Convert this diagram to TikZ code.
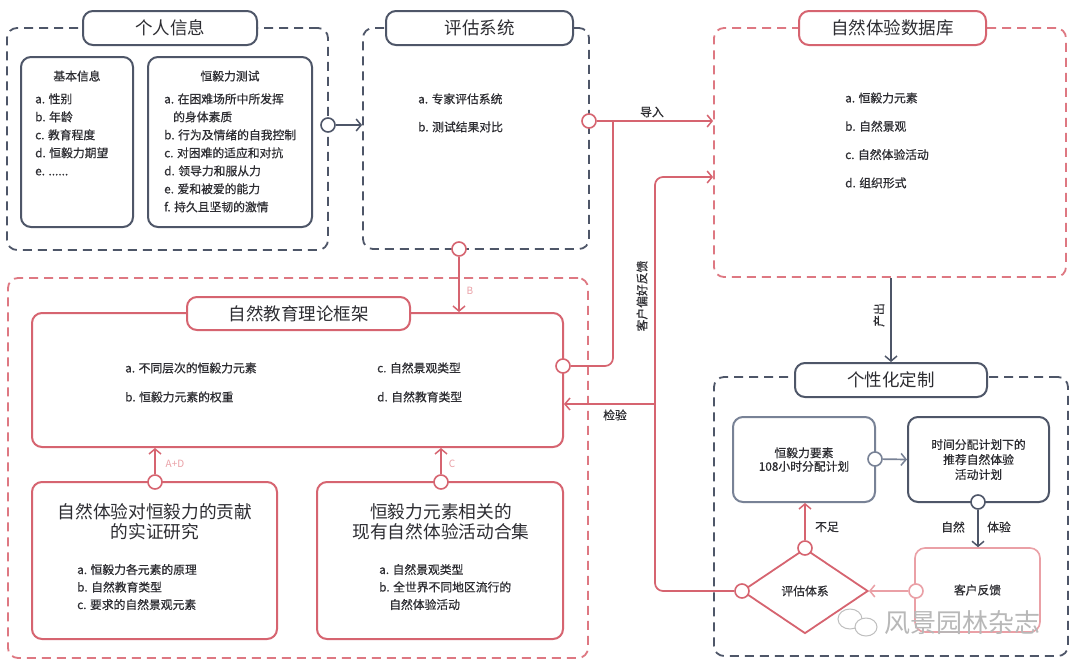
\documentclass[tikz,border=0pt]{standalone}
\usepackage{fontspec}
\setmainfont{Noto Sans CJK SC}
\newfontfamily\itfont{Noto Sans CJK SC}[FakeBold=0.6]
\usetikzlibrary{arrows.meta,shapes.geometric}
\definecolor{gr}{RGB}{78,86,104}
\definecolor{grl}{RGB}{120,130,150}
\definecolor{rd}{RGB}{214,100,112}
\definecolor{rdd}{RGB}{222,120,130}
\definecolor{rdl}{RGB}{234,160,166}
\definecolor{txt}{RGB}{45,45,50}
\tikzset{
  grp/.style={draw, dash pattern=on 9pt off 6pt, line width=1.8pt, rounded corners=10pt, inner sep=0},
  ttl/.style={draw, fill=white, line width=2pt, rounded corners=10pt, inner sep=0, font=\fontsize{17.5}{20}\selectfont, text=txt},
  bx/.style={draw, line width=2pt, rounded corners=10pt, inner sep=0},
  dot/.style={circle, draw, fill=white, line width=1.6pt, minimum size=14pt, inner sep=0},
  arr/.style={line width=1.7pt, -{Straight Barb[length=5pt,width=12pt,line width=1.5pt]}},
  lst/.style={anchor=north west, inner sep=0, align=left, text=txt},
  lbl/.style={inner sep=0, font=\itfont\fontsize{11.8}{14}\selectfont, text=txt},
  sml/.style={inner sep=0, font=\fontsize{10}{12}\selectfont, text=rdl},
}
\begin{document}
\begin{tikzpicture}[x=1pt,y=-1pt]
\useasboundingbox[fill=white] (0,0) rectangle (1080,670);

% ---------- group 1: 个人信息
\node[grp, draw=gr, minimum width=321pt, minimum height=222pt] (gp1) at (167.5,139) {};
\node[ttl, draw=gr, minimum width=174pt, minimum height=34pt] (t1) at (170,28) {个人信息};
\node[bx, draw=gr, minimum width=112pt, minimum height=170pt] (b11) at (77,142) {};
\node[bx, draw=gr, minimum width=164pt, minimum height=170pt] (b12) at (230,142) {};
\node[lbl] (h11) at (77,76) {基本信息};
\node[lbl] (h12) at (230,76) {恒毅力测试};
\node[lst, font=\itfont\fontsize{11.8}{18}\selectfont] (l11) at (35,93.2)
  {a. 性别\\b. 年龄\\c. 教育程度\\d. 恒毅力期望\\e. ......};
\node[lst, font=\itfont\fontsize{11.8}{18}\selectfont] (l12) at (164,93.2)
  {a. 在困难场所中所发挥\\\hspace{9pt}的身体素质\\b. 行为及情绪的自我控制\\c. 对困难的适应和对抗\\d. 领导力和服从力\\e. 爱和被爱的能力\\f. 持久且坚韧的激情};

% ---------- group 2: 评估系统
\node[grp, draw=gr, minimum width=226pt, minimum height=221pt] (gp2) at (476,138.5) {};
\node[ttl, draw=gr, minimum width=187pt, minimum height=34pt] (t2) at (479.5,28) {评估系统};
\node[lst, font=\itfont\fontsize{11.8}{28}\selectfont] (l2) at (418,93.2)
  {a. 专家评估系统\\b. 测试结果对比};

% ---------- group 3: 自然体验数据库
\node[grp, draw=rdd, minimum width=352pt, minimum height=249pt] (gp3) at (890,152.5) {};
\node[ttl, draw=rd, minimum width=187pt, minimum height=34pt] (t3) at (892.5,28) {自然体验数据库};
\node[lst, font=\itfont\fontsize{11.8}{28.3}\selectfont] (l3) at (845,92.2)
  {a. 恒毅力元素\\b. 自然景观\\c. 自然体验活动\\d. 组织形式};

% ---------- group 4: 自然教育理论框架
\node[grp, draw=rdd, minimum width=580pt, minimum height=380pt] (gp4) at (298,468) {};
\node[bx, draw=rd, minimum width=531pt, minimum height=134pt] (fw) at (297.5,380) {};
\node[ttl, draw=rd, minimum width=223pt, minimum height=33pt] (t4) at (298.5,313.5) {自然教育理论框架};
\node[lst, font=\itfont\fontsize{11.8}{29}\selectfont] (l4a) at (125,362.2)
  {a. 不同层次的恒毅力元素\\b. 恒毅力元素的权重};
\node[lst, font=\itfont\fontsize{11.8}{29}\selectfont] (l4b) at (377,362.2)
  {c. 自然景观类型\\d. 自然教育类型};
\node[bx, draw=rd, minimum width=245pt, minimum height=157pt] (b41) at (154.5,560.5) {};
\node[bx, draw=rd, minimum width=246pt, minimum height=157pt] (b42) at (440,560.5) {};
\node[inner sep=0, align=center, text=txt, font=\fontsize{17.7}{19.5}\selectfont] (tt41) at (155,521.5)
  {自然体验对恒毅力的贡献\\的实证研究};
\node[inner sep=0, align=center, text=txt, font=\fontsize{17.7}{19.5}\selectfont] (tt42) at (441,521.5)
  {恒毅力元素相关的\\现有自然体验活动合集};
\node[lst, font=\itfont\fontsize{11.8}{17.5}\selectfont] (l41) at (77,563.8)
  {a. 恒毅力各元素的原理\\b. 自然教育类型\\c. 要求的自然景观元素};
\node[lst, font=\itfont\fontsize{11.8}{17.5}\selectfont] (l42) at (379,563.8)
  {a. 自然景观类型\\b. 全世界不同地区流行的\\\hspace{10pt}自然体验活动};

% ---------- group 5: 个性化定制
\node[grp, draw=gr, minimum width=354pt, minimum height=279pt] (gp5) at (891,516.5) {};
\node[ttl, draw=gr, minimum width=192pt, minimum height=34pt] (t5) at (891,380) {个性化定制};
\node[bx, draw=grl, minimum width=142pt, minimum height=85pt, align=center, text=txt,
      font=\itfont\fontsize{11.8}{13.5}\selectfont] (b51) at (804,459.5) {恒毅力要素\\108小时分配计划};
\node[bx, draw=gr, minimum width=141pt, minimum height=85pt, align=center, text=txt,
      font=\itfont\fontsize{11.8}{15}\selectfont] (b52) at (978.5,459.5) {时间分配计划下的\\推荐自然体验\\活动计划};
\node[bx, draw=rdl, line width=1.6pt, minimum width=125pt, minimum height=84pt, text=txt,
      font=\itfont\fontsize{11.8}{14}\selectfont] (b53) at (977.5,590) {客户反馈};
\node[diamond, draw=rd, line width=1.8pt, aspect=1.48, minimum width=126pt, minimum height=85pt,
      inner sep=0, text=txt, font=\itfont\fontsize{11.8}{14}\selectfont] (dm) at (805,591) {评估体系};

% ---------- connector dots
\node[dot, draw=gr] (d1) at (328,125) {};
\node[dot, draw=rd] (d2) at (589,121) {};
\node[dot, draw=rd] (d3) at (459,249) {};
\node[dot, draw=rd] (d41) at (155,482) {};
\node[dot, draw=rd] (d42) at (441,482) {};
\node[dot, draw=rd] (d5) at (563,366) {};
\node[dot, draw=grl] (d7) at (875,459) {};
\node[dot, draw=gr] (d8) at (978,502) {};
\node[dot, draw=rdl] (d9) at (916,591) {};
\node[dot, draw=rd] (d10) at (805,548) {};
\node[dot, draw=rd] (d6) at (742,591) {};
\coordinate (j1) at (613,121);
\coordinate (k1) at (655,177);
\coordinate (k2) at (655,404);

% ---------- connectors
\draw[arr, gr] (d1) -- (d1 -| gp2.west);
\draw[arr, rd] (d2) -- (d2 -| gp3.west);
\draw[rd, line width=1.7pt, rounded corners=8pt] (d5) -| (j1);
\draw[arr, rd] (d3) -- (d3 |- fw.north);
\draw[arr, rd] (d41) -- (d41 |- fw.south);
\draw[arr, rd] (d42) -- (d42 |- fw.south);
\draw[arr, rd, rounded corners=8pt] (d6) -| (k1) -- (k1 -| gp3.west);
\draw[arr, rd] (k2) -- (k2 -| fw.east);
\draw[arr, gr] (gp3.south -| t5.north) -- (t5.north);
\draw[arr, grl] (d7) -- (b52.west);
\draw[arr, gr] (d8) -- (d8 |- b53.north);
\draw[arr, rdl] (d9) -- (dm.east);
\draw[arr, rd] (d10) -- (d10 |- b51.south);

% ---------- connector labels
\node[lbl] (ldr) at (652,112) {导入};
\node[sml] (lb) at (470,291) {B};
\node[sml] (lad) at (175,464) {A+D};
\node[sml] (lc) at (452,464) {C};
\node[lbl, rotate=90] (lfb) at (642,296) {客户偏好反馈};
\node[lbl] (ljy) at (615,415) {检验};
\node[lbl, rotate=90] (lcc) at (879,315) {产出};
\node[lbl] (lzr) at (953,527) {自然};
\node[lbl] (lty) at (999,527) {体验};
\node[lbl] (lbz) at (827,527) {不足};

% ---------- watermark
\draw[black!25, line width=1pt] (850,619) ellipse (12pt and 10pt);
\draw[black!25, line width=1pt, fill=white] (866,627) ellipse (11pt and 9pt);
\node[inner sep=0, text=black!28, font=\fontsize{26}{28}\selectfont] (wm) at (962,623) {风景园林杂志};
\end{tikzpicture}
\end{document}
